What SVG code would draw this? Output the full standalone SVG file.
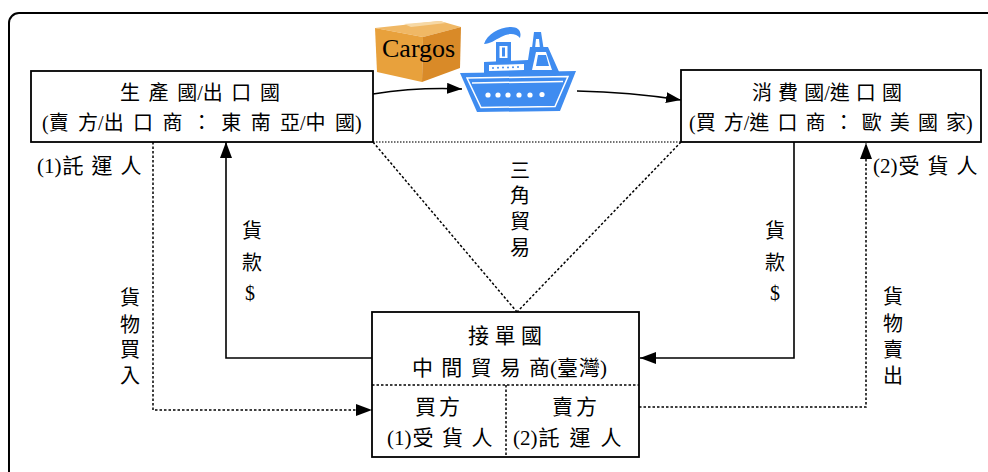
<svg xmlns="http://www.w3.org/2000/svg" width="988" height="472" viewBox="0 0 988 472">
  <style>
    .t { font-family: "Liberation Serif", "Noto Sans CJK TC", serif; font-size: 20px; fill: #000; }
    .m { font-size: 21px; }
    .v { font-size: 20px; text-anchor: middle; }
    .box { fill: #fff; stroke: #000; stroke-width: 1.8; }
    .solid { fill: none; stroke: #000; stroke-width: 1.6; }
    .dash { fill: none; stroke: #000; stroke-width: 1.5; stroke-dasharray: 2.5 2; }
    .dot { fill: none; stroke: #444; stroke-width: 1.3; stroke-dasharray: 1.5 1.5; }
    .ship { fill: #3f8cf0; }
    .wl { fill: none; stroke: #fff; stroke-width: 1.5; }
  </style>
  <defs>
    <marker id="ah" viewBox="0 0 16 12" refX="16" refY="6" markerWidth="16" markerHeight="12" markerUnits="userSpaceOnUse" orient="auto">
      <path d="M0,0 L16,6 L0,12 Z" fill="#000"/>
    </marker>
    <marker id="ahs" viewBox="0 0 15 11" refX="15" refY="5.5" markerWidth="15" markerHeight="11" markerUnits="userSpaceOnUse" orient="auto">
      <path d="M0,0 L15,5.5 L0,11 Z" fill="#000"/>
    </marker>
  </defs>

  <rect width="988" height="472" fill="#fff"/>
  <!-- outer frame -->
  <rect x="9" y="13" width="1000" height="490" rx="10" fill="none" stroke="#000" stroke-width="2"/>

  <!-- cargo box -->
  <g id="cargo">
    <path d="M375,28 L440,21 L461,27 L423,37 Z" fill="#f0b865"/>
    <path d="M404,24 L440,21 L446,23 L411,27 Z" fill="#f6d8a4"/>
    <path d="M375,28 L423,37 L422,82 L377,72 Z" fill="#e8a13c"/>
    <path d="M423,37 L461,27 L460,68 L422,82 Z" fill="#d98a28"/>
    <text class="t" x="382" y="57" style="font-size:26px">Cargos</text>
  </g>

  <!-- ship -->
  <g id="ship">
    <path class="ship" d="M484,44 C487,34 500,27 511,27 C518,27 522,31 520,38 C516,33 508,33 501,37 C495,40 490,44 484,44 Z"/>
    <rect class="ship" x="496" y="42" width="15" height="21"/>
    <rect x="499.5" y="46" width="8" height="12" fill="#fff"/>
    <rect x="502" y="47.5" width="3" height="9" class="ship"/>
    <path class="ship" d="M534,32 L541,32 L546,64 L530,64 Z"/>
    <path d="M536,39 L539,39 L541,58 L534,58 Z" fill="#fff"/>
    <path class="ship" d="M484,75 L484,62 L528,60 L530,47 L548,47 L560,74 Z"/>
    <path d="M489,65 L524,64 L524,70 L489,71 Z" fill="#fff"/>
    <path d="M536,52 L546,52 L552,70 L532,70 Z" fill="#fff"/>
    <path class="ship" d="M538,55 L546,55 L549,66 L536,66 Z"/>
    <g fill="#3f8cf0">
      <circle cx="493" cy="68" r="1"/><circle cx="498" cy="67.8" r="1"/><circle cx="503" cy="67.6" r="1"/>
      <circle cx="508" cy="67.4" r="1"/><circle cx="513" cy="67.2" r="1"/><circle cx="518" cy="67" r="1"/>
    </g>
    <path class="ship" d="M460,73 L576,71 L560,111 L477,112 Z"/>
    <path class="wl" d="M467,78 L568,76.5 L555,106.5 L481,107.5 Z"/>
    <path class="wl" d="M472,83 L563,81.5"/>
    <g fill="#fff">
      <circle cx="488" cy="95" r="2.6"/><circle cx="498" cy="95" r="2.6"/><circle cx="508" cy="95" r="2.6"/>
      <circle cx="519" cy="95" r="2.6"/><circle cx="530" cy="95" r="2.6"/><circle cx="542" cy="94.5" r="2.6"/>
    </g>
  </g>

  <!-- connectors -->
  <g id="connectors">
    <path class="dot" d="M373,142 H681"/>
    <path class="dash" d="M373,142 L517,312"/>
    <path class="dash" d="M681,142 L517,312"/>
    <path class="solid" d="M373,94 Q418,87 462,89" marker-end="url(#ahs)"/>
    <path class="solid" d="M577,91 Q630,92 681,100" marker-end="url(#ahs)"/>
    <path class="solid" d="M372,358 H226 V142" marker-end="url(#ah)"/>
    <path class="solid" d="M794,142 V358 H640" marker-end="url(#ah)"/>
    <path class="dash" d="M153,142 V410 H372" marker-end="url(#ah)"/>
    <path class="dash" d="M639,407 H866 V143" marker-end="url(#ah)"/>
  </g>

  <!-- exporter -->
  <g id="exporter">
    <rect class="box" x="31" y="71" width="342" height="71"/>
    <text class="t" x="120" y="100"><tspan letter-spacing="8.6">生產</tspan>國/<tspan letter-spacing="8.6">出口</tspan>國</text>
    <text class="t" x="42" y="130">(<tspan letter-spacing="9.4">賣</tspan>方/<tspan letter-spacing="9.4">出口商：東南</tspan>亞/<tspan letter-spacing="9.4">中</tspan>國)</text>
  </g>

  <!-- importer -->
  <g id="importer">
    <rect class="box" x="681" y="70" width="300" height="72"/>
    <text class="t" x="752" y="100"><tspan letter-spacing="6.1">消費</tspan>國/<tspan letter-spacing="6.1">進口</tspan>國</text>
    <text class="t" x="689" y="130">(<tspan letter-spacing="8.1">買</tspan>方/<tspan letter-spacing="8.1">進口商：歐美國</tspan>家)</text>
  </g>

  <!-- intermediary -->
  <g id="intermediary">
    <rect class="box" x="372" y="312" width="267" height="145"/>
    <path class="dash" d="M372,385 H639 M506,385 V457"/>
    <text class="t m" x="468" y="343"><tspan letter-spacing="5.5">接單</tspan>國</text>
    <text class="t m" x="412" y="375"><tspan letter-spacing="8.25">中間貿易</tspan>商(<tspan letter-spacing="1">臺</tspan>灣)</text>
    <text class="t m" x="415" y="414"><tspan letter-spacing="3">買</tspan>方</text>
    <text class="t m" x="387" y="445">(1)<tspan dx="1" letter-spacing="8.5">受貨</tspan>人</text>
    <text class="t m" x="552" y="414"><tspan letter-spacing="3">賣</tspan>方</text>
    <text class="t m" x="513" y="445">(2)<tspan dx="1" letter-spacing="10">託運</tspan>人</text>
  </g>

  <!-- labels -->
  <g id="labels">
    <text class="t m" x="37" y="173">(1)<tspan dx="1" letter-spacing="8">託運</tspan>人</text>
    <text class="t m" x="873" y="173">(2)<tspan dx="1" letter-spacing="8">受貨</tspan>人</text>
    <text class="t v" x="520" y="178">三</text>
    <text class="t v" x="520" y="203">角</text>
    <text class="t v" x="520" y="229">貿</text>
    <text class="t v" x="520" y="255">易</text>
    <text class="t v" x="252" y="238">貨</text>
    <text class="t v" x="252" y="270">款</text>
    <text class="t v" x="250" y="300">$</text>
    <text class="t v" x="775" y="238">貨</text>
    <text class="t v" x="775" y="270">款</text>
    <text class="t v" x="775" y="300">$</text>
    <text class="t v" x="130" y="305">貨</text>
    <text class="t v" x="130" y="332">物</text>
    <text class="t v" x="130" y="357">買</text>
    <text class="t v" x="130" y="383">入</text>
    <text class="t v" x="893" y="304">貨</text>
    <text class="t v" x="893" y="331">物</text>
    <text class="t v" x="893" y="357">賣</text>
    <text class="t v" x="893" y="383">出</text>
  </g>
</svg>
